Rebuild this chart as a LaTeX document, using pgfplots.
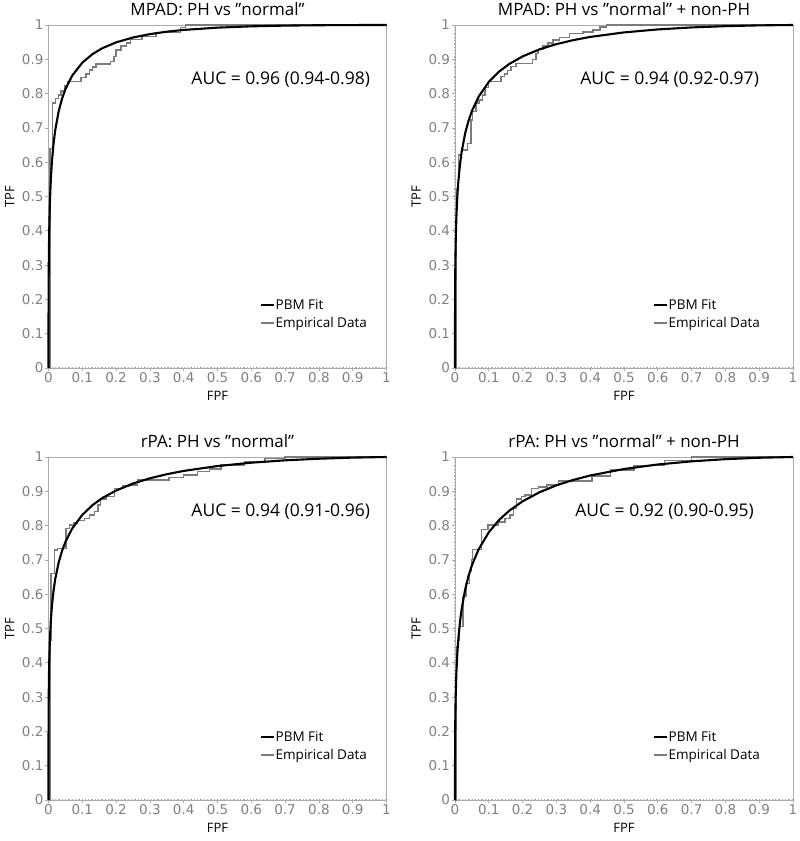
\documentclass[border=0pt]{standalone}
\usepackage{pgfplots}
\pgfplotsset{compat=1.18}
\usepackage{fontspec}
\setmainfont{Open Sans}
\newfontfamily\dejavu{DejaVu Sans}
\definecolor{framegray}{HTML}{ABABAB}
\definecolor{labgray}{HTML}{808080}
\definecolor{empgray}{HTML}{7C7C7C}
\newcommand{\dq}{\char34\relax}

% ---- fitted (PBM) curves ----
\pgfplotstableread{
fpf tpf
0 0
0.0001 0.1476
0.0005 0.2585
0.001 0.3228
0.002 0.3967
0.004 0.4797
0.007 0.5521
0.01 0.5999
0.015 0.6547
0.02 0.6939
0.03 0.7479
0.04 0.7849
0.05 0.8127
0.07 0.8522
0.1 0.8901
0.13 0.9150
0.16 0.9327
0.2 0.9493
0.25 0.9636
0.3 0.9734
0.35 0.9805
0.4 0.9856
0.5 0.9923
0.6 0.9961
0.7 0.9982
0.8 0.9993
0.9 0.9998
1 1
}\fitA
\pgfplotstableread{
fpf tpf
0 0
0.0001 0.1517
0.0005 0.2489
0.001 0.3040
0.002 0.3673
0.004 0.4388
0.007 0.5024
0.01 0.5454
0.015 0.5956
0.02 0.6319
0.03 0.6840
0.04 0.7207
0.05 0.7492
0.07 0.7913
0.1 0.8340
0.13 0.8639
0.16 0.8861
0.2 0.9084
0.25 0.9290
0.3 0.9442
0.35 0.9559
0.4 0.9652
0.5 0.9784
0.6 0.9871
0.7 0.9929
0.8 0.9966
0.9 0.9989
1 1
}\fitB
\pgfplotstableread{
fpf tpf
0 0
0.0001 0.1838
0.0005 0.2830
0.001 0.3369
0.002 0.3978
0.004 0.4657
0.007 0.5247
0.01 0.5643
0.015 0.6106
0.02 0.6443
0.03 0.6922
0.04 0.7261
0.05 0.7524
0.07 0.7913
0.1 0.8312
0.13 0.8595
0.16 0.8808
0.2 0.9023
0.25 0.9226
0.3 0.9379
0.35 0.9498
0.4 0.9594
0.5 0.9736
0.6 0.9834
0.7 0.9903
0.8 0.9950
0.9 0.9982
1 1
}\fitC
\pgfplotstableread{
fpf tpf
0 0
0.0001 0.1151
0.0005 0.1966
0.001 0.2448
0.002 0.3019
0.004 0.3684
0.007 0.4294
0.01 0.4713
0.015 0.5215
0.02 0.5588
0.03 0.6133
0.04 0.6532
0.05 0.6844
0.07 0.7310
0.1 0.7805
0.13 0.8159
0.16 0.8430
0.2 0.8708
0.25 0.8972
0.3 0.9174
0.35 0.9332
0.4 0.9460
0.5 0.9650
0.6 0.9782
0.7 0.9873
0.8 0.9937
0.9 0.9978
1 1
}\fitD

\pgfplotsset{
  rocaxis/.style={
    scale only axis, width=338pt, height=343pt,
    xmin=0, xmax=1, ymin=0, ymax=1, clip=false,
    xtick={0,0.1,0.2,0.3,0.4,0.5,0.6,0.7,0.8,0.9,1},
    ytick={0,0.1,0.2,0.3,0.4,0.5,0.6,0.7,0.8,0.9,1},
    xtick pos=left, ytick pos=left,
    tick align=outside, major tick length=3pt,
    axis line style={framegray, line width=0.9pt},
    tick style={framegray, line width=0.7pt},
    ticklabel style={font=\dejavu\fontsize{13.5}{14}\selectfont, text=labgray},
    yticklabel style={xshift=1.5pt},
    xticklabel style={yshift=2pt},
    /pgf/number format/assume math mode=true,
    /pgf/number format/fixed,
    xlabel=FPF, ylabel=TPF,
    xlabel style={at={(axis description cs:0.5,-0.08)}, anchor=center,
                  font=\fontsize{13}{15}\selectfont},
    ylabel style={at={(axis description cs:-0.115,0.5)}, anchor=center,
                  font=\fontsize{13}{15}\selectfont},
    legend style={draw=none, fill=none, anchor=north west,
                  font=\fontsize{13.5}{15}\selectfont, row sep=4.5pt,
                  nodes={inner sep=1pt}},
    legend image code/.code={\draw[#1] (0pt,0pt) -- (13pt,0pt);},
    legend cell align=left,
  },
  legleft/.style={legend style={at={(axis cs:0.615,0.21)}}},
  legright/.style={legend style={at={(axis cs:0.575,0.21)}}},
  fitline/.style={black, line width=2.1pt},
  empline/.style={empgray, line width=1.4pt},
}

\newcommand{\edges}{%
  \addplot[framegray, line width=1.3pt, dotted, forget plot] coordinates {(0,0) (0,1)};
  \addplot[framegray, line width=1.3pt, dotted, forget plot] coordinates {(0,0) (1,0)};
}
\newcommand{\ptitle}[1]{%
  \node[font=\fontsize{17}{19}\selectfont, anchor=center] at (axis description cs:0.5,1.045) {#1};}

\begin{document}
\begin{tikzpicture}[x=1pt,y=1pt]
\path[use as bounding box] (0,0) rectangle (800,841);

% ---------- top left ----------
\begin{axis}[rocaxis, legleft, at={(48.5pt,473pt)}, anchor=south west]
\edges
\addplot[empline, forget plot] coordinates {
(0,0) (0.004,0) (0.004,0.64) (0.011,0.64) (0.011,0.772) (0.021,0.772) (0.021,0.786)
(0.03,0.786) (0.03,0.796) (0.037,0.796) (0.037,0.808) (0.047,0.808) (0.047,0.822)
(0.057,0.822) (0.057,0.835) (0.096,0.835) (0.096,0.847) (0.111,0.847) (0.111,0.857)
(0.121,0.857) (0.121,0.869) (0.13,0.869) (0.13,0.878) (0.14,0.878) (0.14,0.886)
(0.184,0.886) (0.184,0.893) (0.194,0.893) (0.194,0.908) (0.2,0.908) (0.2,0.927)
(0.214,0.927) (0.214,0.939) (0.23,0.939) (0.23,0.948) (0.243,0.948) (0.243,0.958)
(0.277,0.958) (0.277,0.967) (0.318,0.967) (0.318,0.978) (0.39,0.978) (0.39,0.993)
(0.405,0.993) (0.405,1) (1,1)};
\addplot[fitline] table[x=fpf,y=tpf] {\fitA};
\addlegendentry{PBM Fit}
\addlegendimage{empline}
\addlegendentry{Empirical Data}
\node[font=\fontsize{17.5}{19}\selectfont] at (axis cs:0.687,0.84) {AUC = 0.96 (0.94-0.98)};
\ptitle{MPAD: PH vs \dq normal\dq}
\end{axis}

% ---------- top right ----------
\begin{axis}[rocaxis, legright, at={(455pt,473pt)}, anchor=south west]
\edges
\addplot[empline, forget plot] coordinates {
(0,0) (0.004,0) (0.004,0.524) (0.01,0.524) (0.01,0.621) (0.02,0.621) (0.02,0.636)
(0.037,0.636) (0.037,0.655) (0.047,0.655) (0.047,0.723) (0.052,0.723) (0.052,0.747)
(0.062,0.747) (0.062,0.772) (0.071,0.772) (0.071,0.781) (0.081,0.781) (0.081,0.796)
(0.089,0.796) (0.089,0.818) (0.099,0.818) (0.099,0.835) (0.136,0.835) (0.136,0.85)
(0.146,0.85) (0.146,0.857) (0.156,0.857) (0.156,0.867) (0.166,0.867) (0.166,0.879)
(0.18,0.879) (0.18,0.888) (0.23,0.888) (0.23,0.9) (0.24,0.9) (0.24,0.917)
(0.245,0.917) (0.245,0.929) (0.26,0.929) (0.26,0.939) (0.275,0.939) (0.275,0.948)
(0.29,0.948) (0.29,0.956) (0.31,0.956) (0.31,0.964) (0.339,0.964) (0.339,0.975)
(0.379,0.975) (0.379,0.98) (0.408,0.98) (0.408,0.985) (0.429,0.985) (0.429,0.994)
(0.448,0.994) (0.448,1) (1,1)};
\addplot[fitline] table[x=fpf,y=tpf] {\fitB};
\addlegendentry{PBM Fit}
\addlegendimage{empline}
\addlegendentry{Empirical Data}
\node[font=\fontsize{17.5}{19}\selectfont] at (axis cs:0.635,0.84) {AUC = 0.94 (0.92-0.97)};
\ptitle{MPAD: PH vs \dq normal\dq{} + non-PH}
\end{axis}

% ---------- bottom left ----------
\begin{axis}[rocaxis, legleft, at={(48.5pt,41pt)}, anchor=south west]
\edges
\addplot[empline, forget plot] coordinates {
(0,0) (0.004,0) (0.004,0.466) (0.007,0.466) (0.007,0.661) (0.017,0.661) (0.017,0.729)
(0.027,0.729) (0.027,0.734) (0.052,0.734) (0.052,0.792) (0.062,0.792) (0.062,0.802)
(0.076,0.802) (0.076,0.808) (0.086,0.808) (0.086,0.814) (0.106,0.814) (0.106,0.821)
(0.121,0.821) (0.121,0.831) (0.136,0.831) (0.136,0.841) (0.146,0.841) (0.146,0.86)
(0.153,0.86) (0.153,0.877) (0.17,0.877) (0.17,0.884) (0.195,0.884) (0.195,0.909)
(0.22,0.909) (0.22,0.915) (0.239,0.915) (0.239,0.918) (0.264,0.918) (0.264,0.933)
(0.357,0.933) (0.357,0.941) (0.40,0.941) (0.40,0.948) (0.44,0.948) (0.44,0.957)
(0.476,0.957) (0.476,0.965) (0.51,0.965) (0.51,0.977) (0.58,0.977) (0.58,0.985)
(0.64,0.985) (0.64,0.995) (0.7,0.995) (0.7,1) (1,1)};
\addplot[fitline] table[x=fpf,y=tpf] {\fitC};
\addlegendentry{PBM Fit}
\addlegendimage{empline}
\addlegendentry{Empirical Data}
\node[font=\fontsize{17.5}{19}\selectfont] at (axis cs:0.687,0.84) {AUC = 0.94 (0.91-0.96)};
\ptitle{rPA: PH vs \dq normal\dq}
\end{axis}

% ---------- bottom right ----------
\begin{axis}[rocaxis, legright, at={(455pt,41pt)}, anchor=south west]
\edges
\addplot[empline, forget plot] coordinates {
(0,0) (0.004,0) (0.004,0.447) (0.011,0.447) (0.011,0.466) (0.014,0.466) (0.014,0.505)
(0.024,0.505) (0.024,0.593) (0.032,0.593) (0.032,0.632) (0.042,0.632) (0.042,0.666)
(0.049,0.666) (0.049,0.702) (0.052,0.702) (0.052,0.731) (0.079,0.731) (0.079,0.789)
(0.098,0.789) (0.098,0.802) (0.128,0.802) (0.128,0.811) (0.148,0.811) (0.148,0.821)
(0.163,0.821) (0.163,0.831) (0.173,0.831) (0.173,0.85) (0.182,0.85) (0.182,0.877)
(0.197,0.877) (0.197,0.884) (0.207,0.884) (0.207,0.889) (0.227,0.889) (0.227,0.909)
(0.247,0.909) (0.247,0.913) (0.272,0.913) (0.272,0.918) (0.306,0.918) (0.306,0.930)
(0.405,0.930) (0.405,0.945) (0.46,0.945) (0.46,0.962) (0.53,0.962) (0.53,0.975)
(0.62,0.975) (0.62,0.99) (0.7,0.99) (0.7,1) (1,1)};
\addplot[fitline] table[x=fpf,y=tpf] {\fitD};
\addlegendentry{PBM Fit}
\addlegendimage{empline}
\addlegendentry{Empirical Data}
\node[font=\fontsize{17.5}{19}\selectfont] at (axis cs:0.62,0.84) {AUC = 0.92 (0.90-0.95)};
\ptitle{rPA: PH vs \dq normal\dq{} + non-PH}
\end{axis}
\end{tikzpicture}
\end{document}
